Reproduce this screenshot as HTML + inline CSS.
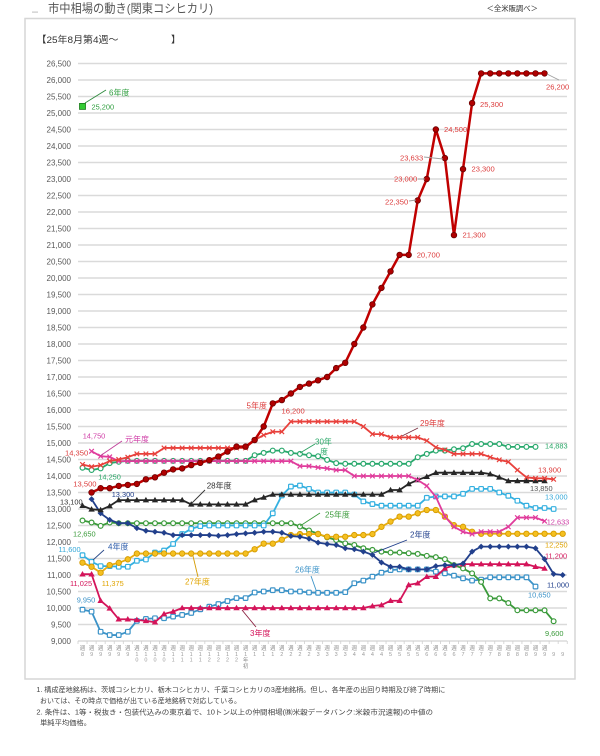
<!DOCTYPE html>
<html><head><meta charset="utf-8">
<style>
html,body{margin:0;padding:0;background:#fff;}
svg{display:block;}
text{font-family:"Liberation Sans","Noto Sans CJK JP",sans-serif;}
</style></head><body>
<svg id="c" width="600" height="756" viewBox="0 0 600 756" xmlns="http://www.w3.org/2000/svg">
<rect x="0" y="0" width="600" height="756" fill="#fff"/>
<!-- title -->
<rect x="32" y="11.5" width="6" height="1.2" fill="#c8c8c8"/>
<text x="48" y="12.5" font-size="12" fill="#555" textLength="165" lengthAdjust="spacingAndGlyphs">市中相場の動き(関東コシヒカリ)</text>
<text x="486.5" y="11" font-size="7.2" fill="#333" textLength="51.5" lengthAdjust="spacingAndGlyphs">＜全米販調べ＞</text>
<!-- frame -->
<rect x="25" y="18.5" width="550" height="660.5" fill="#fff" stroke="#d6d6d6" stroke-width="1.5"/>
<text x="36.5" y="43" font-size="9.5" fill="#333" textLength="82" lengthAdjust="spacingAndGlyphs">【25年8月第4週～</text>
<text x="171" y="43" font-size="9.5" fill="#333">】</text>

<!-- gridlines -->
<path d="M78 624.5H567M78 608H567M78 591.5H567M78 575H567M78 558.5H567M78 542H567M78 525.5H567M78 509H567M78 492.5H567M78 476H567M78 459.5H567M78 443H567M78 426.5H567M78 410H567M78 393.5H567M78 377H567M78 360.5H567M78 344H567M78 327.5H567M78 311H567M78 294.5H567M78 278H567M78 261.5H567M78 245H567M78 228.5H567M78 212H567M78 195.5H567M78 179H567M78 162.5H567M78 146H567M78 129.5H567M78 113H567M78 96.5H567M78 80H567M78 63.5H567" stroke="#dadada" stroke-width="1.4" fill="none"/>
<path d="M78 641H567" stroke="#c8c8c8" stroke-width="1"/>
<g id="ticks" stroke="#cfcfcf" stroke-width="0.8"></g>

<!-- y labels -->
<g font-size="8" fill="#595959" text-anchor="end">
<text x="71" y="643.8">9,000</text>
<text x="71" y="627.3">9,500</text>
<text x="71" y="610.8">10,000</text>
<text x="71" y="594.3">10,500</text>
<text x="71" y="577.8">11,000</text>
<text x="71" y="561.3">11,500</text>
<text x="71" y="544.8">12,000</text>
<text x="71" y="528.3">12,500</text>
<text x="71" y="511.8">13,000</text>
<text x="71" y="495.3">13,500</text>
<text x="71" y="478.8">14,000</text>
<text x="71" y="462.3">14,500</text>
<text x="71" y="445.8">15,000</text>
<text x="71" y="429.3">15,500</text>
<text x="71" y="412.8">16,000</text>
<text x="71" y="396.3">16,500</text>
<text x="71" y="379.8">17,000</text>
<text x="71" y="363.3">17,500</text>
<text x="71" y="346.8">18,000</text>
<text x="71" y="330.3">18,500</text>
<text x="71" y="313.8">19,000</text>
<text x="71" y="297.3">19,500</text>
<text x="71" y="280.8">20,000</text>
<text x="71" y="264.3">20,500</text>
<text x="71" y="247.8">21,000</text>
<text x="71" y="231.3">21,500</text>
<text x="71" y="214.8">22,000</text>
<text x="71" y="198.3">22,500</text>
<text x="71" y="181.8">23,000</text>
<text x="71" y="165.3">23,500</text>
<text x="71" y="148.8">24,000</text>
<text x="71" y="132.3">24,500</text>
<text x="71" y="115.8">25,000</text>
<text x="71" y="99.3">25,500</text>
<text x="71" y="82.8">26,000</text>
<text x="71" y="66.3">26,500</text>
</g>

<!-- x labels -->
<g font-size="5.5" text-anchor="middle">
<text fill="#8a8a8a" y="650" x="82.5 91.6 100.6 109.7 118.7 127.8 136.9 145.9 155 164 173.1 182.2 191.2 200.3 209.3 218.4 227.5 236.5 245.6 254.6 263.7 272.8 281.8 290.9 299.9 309 318.1 327.1 336.2 345.2 354.3 363.4 372.4 381.5 390.5 399.6 408.7 417.7 426.8 435.8 444.9 454 463 472.1 481.1 490.2 499.3 508.3 517.4 526.4 535.5 544.6 553.6 562.7">週週週週週週週週週週週週週週週週週週週週週週週週週週週週週週週週週週週週週週週週週週週週週週週週週週週週</text>
<text fill="#9a9a9a" y="656" x="82.5 91.6 100.6 109.7 118.7 127.8 136.9 145.9 155 164 173.1 182.2 191.2 200.3 209.3 218.4 227.5 236.5 245.6 254.6 263.7 272.8 281.8 290.9 299.9 309 318.1 327.1 336.2 345.2 354.3 363.4 372.4 381.5 390.5 399.6 408.7 417.7 426.8 435.8 444.9 454 463 472.1 481.1 490.2 499.3 508.3 517.4 526.4 535.5 544.6 553.6 562.7">899999111111111111111122223333444455556666777788889999</text>
<text fill="#9a9a9a" y="661.5" x="136.9 145.9 155 164 173.1 182.2 191.2 200.3 209.3 218.4 227.5 236.5">000011112222</text>
<text fill="#8a8a8a" x="245.6" y="662">年</text>
<text fill="#8a8a8a" x="245.6" y="668">初</text>
</g>

<g id="series"></g>

<!-- leader lines -->
<g fill="none" stroke-width="0.9">
<path d="M85 103L106 90" stroke="#2e8b3e"/>
<path d="M547 74L559 80" stroke="#a0a0a0"/>
<path d="M424 157L443 159" stroke="#a0a0a0"/>
<path d="M418 179L425 179" stroke="#a0a0a0"/>
<path d="M409 201L416 200" stroke="#a0a0a0"/>
<path d="M418 428L402 436" stroke="#7a3040"/>
<path d="M315 444L300 453" stroke="#2aa060"/>
<path d="M320 513L300 526" stroke="#3a9a3a"/>
<path d="M407 540L374 553" stroke="#22408c"/>
<path d="M311 576L316 590" stroke="#3c93c8"/>
<path d="M256 627L242 610" stroke="#8a2040"/>
<path d="M198 577L193 556" stroke="#d49a00"/>
<path d="M104 550L93 560" stroke="#2a4a8a"/>
<path d="M122 441L100 456" stroke="#c0409a"/>
<path d="M205 490L192 503" stroke="#333"/>
</g>

<!-- data labels -->
<g font-size="7.6" fill="#dc3c3c">
<text x="546" y="89.5">26,200</text>
<text x="480" y="107">25,300</text>
<text x="444" y="132">24,500</text>
<text x="400" y="160.5">23,633</text>
<text x="471.5" y="171.7">23,300</text>
<text x="394" y="181.7">23,000</text>
<text x="385" y="204.4">22,350</text>
<text x="462.5" y="237.7">21,300</text>
<text x="416.7" y="257.7">20,700</text>
<text x="281.5" y="413.4">16,200</text>
<text x="538" y="472.7">13,900</text>
<text x="65" y="455.4">14,350</text>
<text x="73.3" y="486.7">13,500</text>
</g>
<g font-size="8">
<text x="246.5" y="408.7" fill="#dc3c3c">5年度</text>
<text x="420" y="426" fill="#dc3c3c">29年度</text>
<text x="109" y="95.5" fill="#2e9e3e">6年度</text>
<text x="315" y="444.5" fill="#2aa868">30年</text>
<text x="320" y="454.5" fill="#2aa868">度</text>
<text x="325" y="517.7" fill="#3a9a3a">25年度</text>
<text x="410" y="537.7" fill="#22408c">2年度</text>
<text x="295" y="572.7" fill="#3c93c8">26年度</text>
<text x="250" y="636" fill="#d4145a">3年度</text>
<text x="185" y="584.4" fill="#e0a400">27年度</text>
<text x="108" y="549.4" fill="#2a5aa8">4年度</text>
<text x="125" y="442" fill="#d040a8">元年度</text>
<text x="206.7" y="488.7" fill="#333">28年度</text>
</g>
<g font-size="7.4">
<text x="91.5" y="109.5" fill="#2e9e3e">25,200</text>
<text x="545" y="448.7" fill="#2aa868">14,883</text>
<text x="530" y="491" fill="#555">13,850</text>
<text x="545" y="499.4" fill="#35a8d8">13,000</text>
<text x="546.7" y="524.4" fill="#d040a8">12,633</text>
<text x="545" y="547.7" fill="#e0a400">12,250</text>
<text x="545" y="558.7" fill="#d4145a">11,200</text>
<text x="547" y="587.7" fill="#22408c">11,000</text>
<text x="528" y="597.7" fill="#3c93c8">10,650</text>
<text x="545" y="636" fill="#3a9a3a">9,600</text>
<text x="58.5" y="551.8" fill="#35a8d8">11,600</text>
<text x="101.7" y="586" fill="#e0a400">11,375</text>
<text x="70" y="586" fill="#d4145a">11,025</text>
<text x="76.7" y="602.7" fill="#3c93c8">9,950</text>
<text x="73" y="536.7" fill="#3a9a3a">12,650</text>
<text x="60" y="504.5" fill="#333">13,100</text>
<text x="111.7" y="497" fill="#22408c">13,300</text>
<text x="82.7" y="438.7" fill="#d040a8">14,750</text>
<text x="98.3" y="479.4" fill="#2aa868">14,250</text>
</g>

<!-- footnotes -->
<g font-size="7" fill="#444">
<text x="36.4" y="692" textLength="409" lengthAdjust="spacingAndGlyphs">1. 構成産地銘柄は、茨城コシヒカリ、栃木コシヒカリ、千葉コシヒカリの3産地銘柄。但し、各年産の出回り時期及び終了時期に</text>
<text x="40" y="703" textLength="201" lengthAdjust="spacingAndGlyphs">おいては、その時点で価格が出ている産地銘柄で対応している。</text>
<text x="36.4" y="714.5" textLength="396.6" lengthAdjust="spacingAndGlyphs">2. 条件は、1等・税抜き・包装代込みの東京着で、10トン以上の仲間相場(㈱米穀データバンク:米穀市況速報)の中値の</text>
<text x="40" y="725" textLength="51" lengthAdjust="spacingAndGlyphs">単純平均価格。</text>
</g>
</svg>
<script>
(function(){
var NS="http://www.w3.org/2000/svg";
var X=function(i){return 82.5+9.06*i;};
var Y=function(v){return 641-(v-9000)*0.033;};
var R=function(v,n){var a=[];for(var k=0;k<n;k++)a.push(v);return a;};
function el(t,a,p){var e=document.createElementNS(NS,t);for(var k in a)e.setAttribute(k,a[k]);p.appendChild(e);return e;}
var tk=document.getElementById("ticks");
var d="";for(var k=0;k<=54;k++){var x=78+9.06*k;d+="M"+x.toFixed(2)+" 641V644";}
el("path",{d:d},tk);
var S=[
 {s:0,c:"#3c93c8",m:"osq",v:[9950,9890,9280,9180,9180,9280,9610,9670,9690,9690,9740,9790,9850,9960,10040,10120,10210,10300,10300,10470,10500,10540,10540,10500,10500,10470,10460,10460,10460,10480,10750,10830,10950,11070,11150,11170,11170,11170,11170,11100,11050,10980,10900,10830,10860,10930,10930,10930,10930,10930,10650]},
 {s:0,c:"#3a9a3a",m:"oc",v:[12650,12590,12490,12590].concat(R(12570,20),[12470,12350,12250,12140,12060,11960,11910,11810,11760,11710,11680,11680,11660,11640,11580,11540,11480,11300,11200,11050,10790,10290,10290,10150,9930,9930,9930,9930,9600])},
 {s:0,c:"#d4145a",m:"tri",v:[11025,11025,10220,9990,9660,9660,9640,9610,9570,9820,9890].concat(R(10000,21),[10060,10090,10220,10220,10700,10750,10950,10950,11200,11300],R(11330,8),[11250,11200])},
 {s:0,c:"#35b0e0",m:"osq",v:[11600,11400,11270,11270,11250,11250,11430,11470,11680,11740,11940,12240,12400,12480].concat(R(12500,7),[12870,13410,13680,13710,13610],R(13500,4),[13440,13230,13150],R(13100,5),[13340,13380,13380,13380,13460,13610,13610,13610,13500,13400,13250,13100,13030,13030,13000])},
 {s:0,c:"#e8ae10",m:"gc",v:[11375,11250,11070,11300,11370,11475].concat(R(11650,13),[11780,11950,11950,12070,12210,12240,12240,12240,12160,12160,12160,12210,12210,12240,12460,12620,12770,12770,12870,12970,12970,12770,12510,12460,12310],R(12250,10))},
 {s:1,c:"#22408c",m:"dia",v:[13300,12870,12670,12570,12570,12420,12340,12310,12280].concat(R(12210,5),[12190,12210,12240,12260,12280,12310,12310,12280,12180,12160,12100,11980,11940,11910,11810,11780,11710,11610,11380,11250,11250,11170,11170,11170,11270,11300,11300,11350,11710],R(11860,6),[11810,11480,11030,11000])},
 {s:0,c:"#262626",m:"tri",v:[13100,12990,12970,13090].concat(R(13270,8),R(13140,7),[13270,13350],R(13440,13),[13575,13575,13760,13880,13980],R(14100,6),[14060,13960],R(13850,5))},
 {s:0,c:"#28a86c",m:"oc",v:[14250,14180,14230,14390,14430].concat(R(14460,14),[14630,14700,14770,14770,14700,14670,14630,14600,14490,14390],R(14370,8),[14570,14670,14770,14770,14810,14840],R(14970,4),R(14883,4))},
 {s:1,c:"#e03c9c",m:"x",v:[14750,14600,14580].concat(R(14450,20),[14300,14300,14260,14230,14180,14180],R(14000,7),[13880,13700,13370,12770,12460,12310,12240,12310,12310,12310,12460,12740,12740,12740,12633])},
 {s:0,c:"#e8413c",m:"x",v:[14350,14280,14330,14450,14500,14570,14670,14670,14670].concat(R(14850,10),[15090,15240,15340,15340],R(15650,8),[15500,15270,15270],R(15170,4),[15070,14870,14790],R(14670,4),[14570,14490,14430,14180,13960,13930,13930,13900])},
 {s:0,c:"#32c032",m:"sq6",v:[25200]},
 {s:1,c:"#c00000",m:"red",w:2.5,v:[13500,13630,13630,13700,13730,13760,13900,13960,14100,14200,14230,14330,14400,14480,14590,14740,14890,14890,15090,15500,16200,16300,16500,16700,16800,16900,17000,17270,17430,18000,18500,19200,19700,20200,20700,20700,22350,23000,24500,23633,21300,23300,25300].concat(R(26200,8))}
];
var g=document.getElementById("series");
S.forEach(function(s){
 var pts=s.v.map(function(v,k){return [X(s.s+k),Y(v)];});
 if(pts.length>1){
  el("polyline",{points:pts.map(function(p){return p[0].toFixed(2)+","+p[1].toFixed(2);}).join(" "),fill:"none",stroke:s.c,"stroke-width":s.w||1.8,"stroke-linejoin":"round"},g);
 }
 pts.forEach(function(p){
  var x=p[0],y=p[1];
  switch(s.m){
   case "red": el("circle",{cx:x,cy:y,r:2.8,fill:"#b00000",stroke:"#6a0000","stroke-width":0.8},g);break;
   case "oc": el("circle",{cx:x,cy:y,r:2.4,fill:"#fff",stroke:s.c,"stroke-width":1.2},g);break;
   case "osq": el("rect",{x:x-2.3,y:y-2.3,width:4.6,height:4.6,rx:1,fill:"#fff",stroke:s.c,"stroke-width":1.2},g);break;
   case "gc": el("circle",{cx:x,cy:y,r:2.7,fill:"#f5c020",stroke:"#d49a00","stroke-width":0.9},g);break;
   case "tri": el("polygon",{points:x+","+(y-3.2)+" "+(x-3.2)+","+(y+2.3)+" "+(x+3.2)+","+(y+2.3),fill:s.c},g);break;
   case "dia": el("polygon",{points:x+","+(y-3)+" "+(x+3)+","+y+" "+x+","+(y+3)+" "+(x-3)+","+y,fill:s.c},g);break;
   case "x": el("path",{d:"M"+(x-2.3)+" "+(y-2.3)+"L"+(x+2.3)+" "+(y+2.3)+"M"+(x-2.3)+" "+(y+2.3)+"L"+(x+2.3)+" "+(y-2.3),stroke:s.c,"stroke-width":1.2,fill:"none"},g);break;
   case "sq6": el("rect",{x:x-3,y:y-3,width:6,height:6,fill:"#33cc33",stroke:"#1a7a1a","stroke-width":0.8},g);break;
  }
 });
});
})();
</script>
</body></html>
